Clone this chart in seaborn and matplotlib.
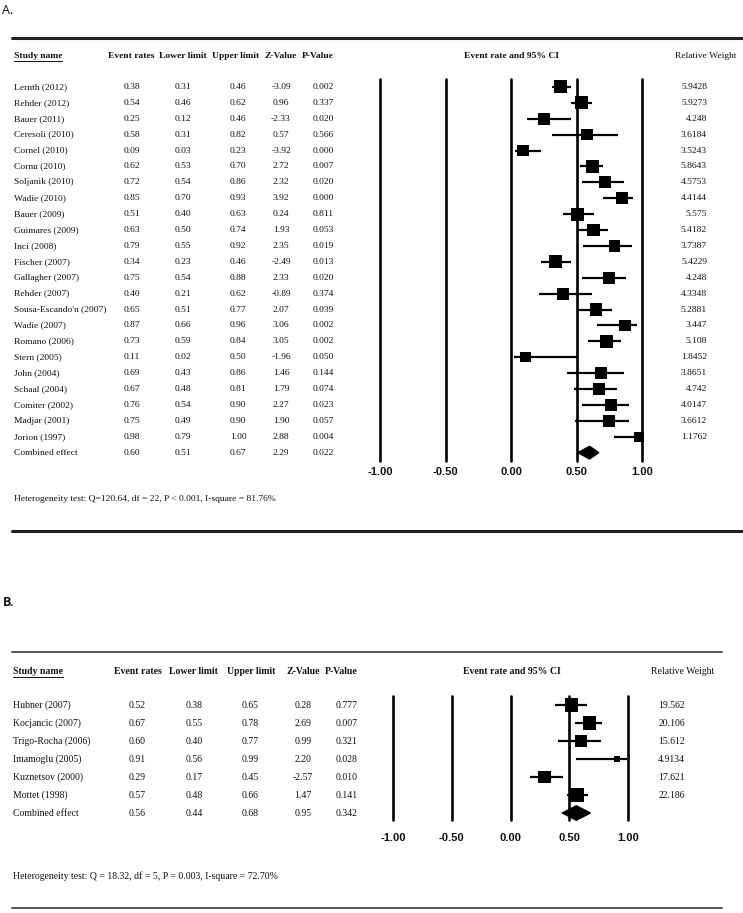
import numpy as np
import pandas as pd
import matplotlib
matplotlib.use('Agg')
import matplotlib.pyplot as plt
import matplotlib.transforms as mtransforms
from matplotlib.lines import Line2D
import seaborn as sns

# ---- panel A data ----
names_a = ['Leruth (2012)', 'Rehder (2012)', 'Bauer (2011)', 'Ceresoli (2010)', 'Cornel (2010)',
           'Cornu (2010)', 'Soljanik (2010)', 'Wadie (2010)', 'Bauer (2009)', 'Guimares (2009)',
           'Inci (2008)', 'Fischer (2007)', 'Gallagher (2007)', 'Rehder (2007)',
           "Sousa-Escando'n (2007)", 'Wadie (2007)', 'Romano (2006)', 'Stern (2005)',
           'John (2004)', 'Schaal (2004)', 'Comiter (2002)', 'Madjar (2001)', 'Jorion (1997)']
rate_a = [0.38, 0.54, 0.25, 0.58, 0.09, 0.62, 0.72, 0.85, 0.51, 0.63, 0.79, 0.34,
          0.75, 0.40, 0.65, 0.87, 0.73, 0.11, 0.69, 0.67, 0.76, 0.75, 0.98]
lower_a = [0.31, 0.46, 0.12, 0.31, 0.03, 0.53, 0.54, 0.70, 0.40, 0.50, 0.55, 0.23,
           0.54, 0.21, 0.51, 0.66, 0.59, 0.02, 0.43, 0.48, 0.54, 0.49, 0.79]
upper_a = [0.46, 0.62, 0.46, 0.82, 0.23, 0.70, 0.86, 0.93, 0.63, 0.74, 0.92, 0.46,
           0.88, 0.62, 0.77, 0.96, 0.84, 0.50, 0.86, 0.81, 0.90, 0.90, 1.00]
z_a = [-3.09, 0.96, -2.33, 0.57, -3.92, 2.72, 2.32, 3.92, 0.24, 1.93, 2.35, -2.49,
       2.33, -0.89, 2.07, 3.06, 3.05, -1.96, 1.46, 1.79, 2.27, 1.90, 2.88]
p_a = [0.002, 0.337, 0.020, 0.566, 0.000, 0.007, 0.020, 0.000, 0.811, 0.053, 0.019, 0.013,
       0.020, 0.374, 0.039, 0.002, 0.002, 0.050, 0.144, 0.074, 0.023, 0.057, 0.004]
weight_a = [5.9428, 5.9273, 4.248, 3.6184, 3.5243, 5.8643, 4.5753, 4.4144, 5.575, 5.4182,
            3.7387, 5.4229, 4.248, 4.3348, 5.2881, 3.447, 5.108, 1.8452, 3.8651, 4.742,
            4.0147, 3.6612, 1.1762]
combined_a = [0.60, 0.51, 0.67, 2.29, 0.022]
het_a = 'Heterogeneity test: Q=120.64, df = 22, P < 0.001, I-square = 81.76%'

# ---- panel B data ----
names_b = ['Hubner (2007)', 'Kocjancic (2007)', 'Trigo-Rocha (2006)', 'Imamoglu (2005)',
           'Kuznetsov (2000)', 'Mottet (1998)']
rate_b = [0.52, 0.67, 0.60, 0.91, 0.29, 0.57]
lower_b = [0.38, 0.55, 0.40, 0.56, 0.17, 0.48]
upper_b = [0.65, 0.78, 0.77, 0.99, 0.45, 0.66]
z_b = [0.28, 2.69, 0.99, 2.20, -2.57, 1.47]
p_b = [0.777, 0.007, 0.321, 0.028, 0.010, 0.141]
weight_b = [19.562, 20.106, 15.612, 4.9134, 17.621, 22.186]
combined_b = [0.56, 0.44, 0.68, 0.95, 0.342]
het_b = 'Heterogeneity test: Q = 18.32, df = 5, P = 0.003, I-square = 72.70%'

ticks = [-1.0, -0.5, 0.0, 0.5, 1.0]
col_heads = ['Event rates', 'Lower limit', 'Upper limit', 'Z-Value', 'P-Value']

W, H = 743, 913
sns.set_theme(style='white')
plt.rcParams['font.family'] = ['Liberation Serif', 'DejaVu Serif']
fig = plt.figure(figsize=(W / 100, H / 100), dpi=100)


def fx(px):
    return px / W


def fy(py):
    return 1 - py / H


def hrule(x0, x1, y, lw, color):
    fig.add_artist(Line2D([fx(x0), fx(x1)], [fy(y), fy(y)], transform=fig.transFigure,
                          lw=lw, color=color))


def panel(names, rate, lower, upper, z, p, weight, combined, het, lay):
    fs = lay['fs']
    ax = fig.add_axes([fx(lay['x0']), fy(lay['y1']), fx(lay['x1'] - lay['x0']),
                       (lay['y1'] - lay['y0']) / H])
    ax.patch.set_alpha(0)
    n = len(names)
    df = pd.DataFrame({'study': names, 'rate': rate, 'lower': lower,
                       'upper': upper, 'weight': weight})
    df['row'] = np.arange(n)

    for t in ticks:
        ax.axvline(t, color='black', lw=1.9, zorder=1, clip_on=False)
    ax.hlines(df['row'], df['lower'], df['upper'], color='black', lw=lay['ci_lw'],
              zorder=2, clip_on=False)
    sns.scatterplot(data=df, x='rate', y='row', size='weight', sizes=lay['sizes'],
                    marker='s', color='black', linewidth=0, legend=False, ax=ax,
                    zorder=3, clip_on=False)
    est, lo, hi = combined[0], combined[1], combined[2]
    h = 0.4
    ax.fill([lo, est, hi, est], [n, n - h, n, n + h], color='black', zorder=3, clip_on=False)

    ax.set_xlim(-1, 1)
    ax.set_ylim(-0.5 + (lay['y1'] - lay['y0']) / lay['row_px'], -0.5)
    ax.set_yticks([])
    ax.set_xticks(ticks, labels=[f'{t:.2f}' for t in ticks])
    ax.tick_params(axis='x', length=0, pad=lay['pad'])
    for lab in ax.get_xticklabels():
        lab.set_fontfamily('Liberation Sans')
        lab.set_fontweight('bold')
        lab.set_fontsize(8)
        lab.set_color('#111111')
    ax.set_xlabel('')
    ax.set_ylabel('')
    sns.despine(ax=ax, left=True, bottom=True)

    # table text
    tr = mtransforms.blended_transform_factory(fig.transFigure, ax.transData)
    rows = list(zip(names, rate, lower, upper, z, p)) + [('Combined effect',) + tuple(combined)]
    for i, (nm, r, l, u, zv, pv) in enumerate(rows):
        ax.text(fx(lay['name_x']), i, nm, transform=tr, ha='left', va='center', fontsize=fs,
                color='#111111')
        vals = [f'{r:.2f}', f'{l:.2f}', f'{u:.2f}', f'{zv:.2f}', f'{pv:.3f}']
        for cx, v in zip(lay['val_x'], vals):
            ax.text(fx(cx), i, v, transform=tr, ha='center', va='center', fontsize=fs,
                    color='#111111')
    for i, w in enumerate(weight):
        ax.text(fx(lay['w_x']), i, str(w), transform=tr, ha='right', va='center',
                fontsize=fs, color='#111111')

    # headers
    hy = fy(lay['head_y'])
    sn = fig.text(fx(lay['name_x']), hy, 'Study name', ha='left', va='center', fontsize=fs,
                  fontweight='bold', color='#111111')
    for cx, t in zip(lay['head_x'], col_heads):
        fig.text(fx(cx), hy, t, ha='center', va='center', fontsize=fs, fontweight='bold',
                 color='#111111')
    fig.text(fx(lay['ci_x']), hy, 'Event rate and 95% CI', ha='center', va='center',
             fontsize=fs, fontweight='bold', color='#111111')
    fig.text(fx(lay['rw_x']), hy, 'Relative Weight', ha='center', va='center', fontsize=fs,
             color='#111111')
    fig.text(fx(lay['name_x']), fy(lay['het_y']), het, ha='left', va='center', fontsize=fs,
             color='#111111')

    # underline under "Study name"
    fig.canvas.draw()
    bb = sn.get_window_extent().transformed(fig.transFigure.inverted())
    fig.add_artist(Line2D([bb.x0, bb.x1], [fy(lay['head_y'] + 5)] * 2,
                          transform=fig.transFigure, lw=0.7, color='#111111'))

    hrule(12, lay['rule_x1'], lay['rule_top'], lay['rule_lw'], lay['rule_color'])
    hrule(12, lay['rule_x1'], lay['rule_bot'], lay['rule_lw'], lay['rule_color'])


lay_a = dict(x0=380, x1=642, y0=79, y1=461, row_px=15.9, fs=6.8, sizes=(52, 88), ci_lw=1.6,
             pad=4, name_x=14, val_x=[132, 183, 238, 281, 323],
             head_x=[131, 183, 236, 281, 318], w_x=707, ci_x=512, rw_x=706, head_y=56,
             het_y=499, rule_top=38, rule_bot=531, rule_x1=743, rule_lw=2.2,
             rule_color='#222222')
lay_b = dict(x0=393, x1=628, y0=696, y1=820, row_px=18.0, fs=7.0, sizes=(18, 102), ci_lw=1.6,
             pad=9, name_x=13, val_x=[137, 194, 250, 303, 347],
             head_x=[138, 193, 251, 303, 341], w_x=685, ci_x=512, rw_x=683, head_y=672,
             het_y=876, rule_top=652, rule_bot=908, rule_x1=722, rule_lw=1.4,
             rule_color='#555555')

panel(names_a, rate_a, lower_a, upper_a, z_a, p_a, weight_a, combined_a, het_a, lay_a)
panel(names_b, rate_b, lower_b, upper_b, z_b, p_b, weight_b, combined_b, het_b, lay_b)

fig.text(fx(2), fy(10), 'A.', ha='left', va='center', fontsize=9, family='Open Sans',
         color='#111111')
fig.text(fx(3), fy(603), 'B.', ha='left', va='center', fontsize=9, family='Open Sans',
         fontweight='bold', color='#111111')

fig.savefig('out.png', dpi=100)
